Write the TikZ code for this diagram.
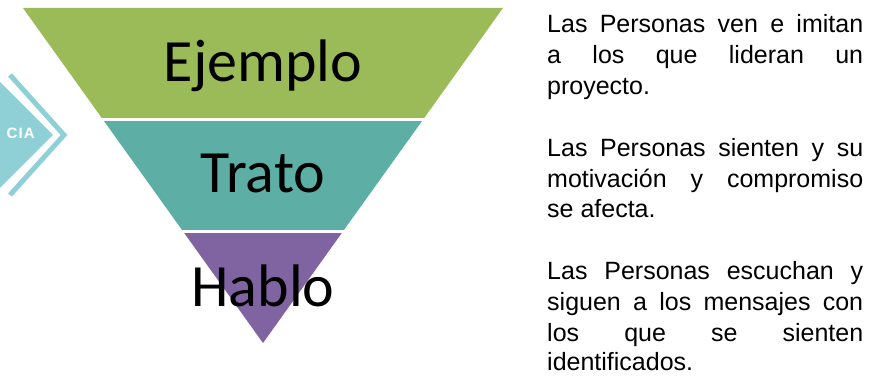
\documentclass[tikz,border=0pt]{standalone}
\usepackage{fontspec}
\setmainfont{Carlito}
\newfontfamily\rightfont{Liberation Sans}
\newfontfamily\ciafont[LetterSpace=8]{Liberation Sans Bold}
\definecolor{pgreen}{HTML}{9BBB59}
\definecolor{pteal}{HTML}{5DAFA6}
\definecolor{ppurple}{HTML}{8064A2}
\definecolor{chev}{HTML}{8ED0D5}
\tikzset{
  level/.style={anchor=base, inner sep=0pt, font=\fontsize{60}{60}\selectfont},
  jline/.style={anchor=base west, inner sep=0pt, font=\rightfont\fontsize{25}{31}\selectfont},
}
\newcommand{\jl}[1]{\makebox[316pt][s]{#1}}
\begin{document}
\begin{tikzpicture}[x=1pt,y=-1pt]
\useasboundingbox (0,0) rectangle (887,379);
% left chevron decoration
\fill[chev] (-6,76) -- (53,135) -- (-6,194) -- cycle;
\draw[chev, line width=5pt, line cap=butt, line join=miter] (10,75) -- (64,135) -- (10,195);
\node[anchor=base east, inner sep=0pt, text=white, font=\ciafont\fontsize{15}{15}\selectfont] (cia) at (35,138.5) {CIA};
% inverted pyramid
\coordinate (tl) at (23,8);
\coordinate (tr) at (503,8);
\coordinate (ap) at (263,343);
\begin{scope}
  \clip (tl) -- (tr) -- (ap) -- cycle;
  \fill[pgreen] (0,0) rectangle (887,118.5);
  \fill[pteal] (0,121.5) rectangle (887,230.5);
  \fill[ppurple] (0,233.5) rectangle (887,379);
\end{scope}
\node[level] (ejemplo) at (263,82) {Ejemplo};
\node[level] (trato) at (263,193) {Trato};
\node[level] (hablo) at (263,307) {Hablo};
% right text
\node[jline] (a1) at (547,32.5) {\jl{Las Personas ven e imitan}};
\node[jline] (a2) at (547,63.5) {\jl{a los que lideran un}};
\node[jline] (a3) at (547,94.5) {proyecto.};
\node[jline] (b1) at (547,156.7) {\jl{Las Personas sienten y su}};
\node[jline] (b2) at (547,187.5) {\jl{motivación y compromiso}};
\node[jline] (b3) at (547,218) {se afecta.};
\node[jline] (c1) at (547,280) {\jl{Las Personas escuchan y}};
\node[jline] (c2) at (547,311) {\jl{siguen a los mensajes con}};
\node[jline] (c3) at (547,341.5) {\jl{los que se sienten}};
\node[jline] (c4) at (547,371) {identificados.};
\end{tikzpicture}
\end{document}
